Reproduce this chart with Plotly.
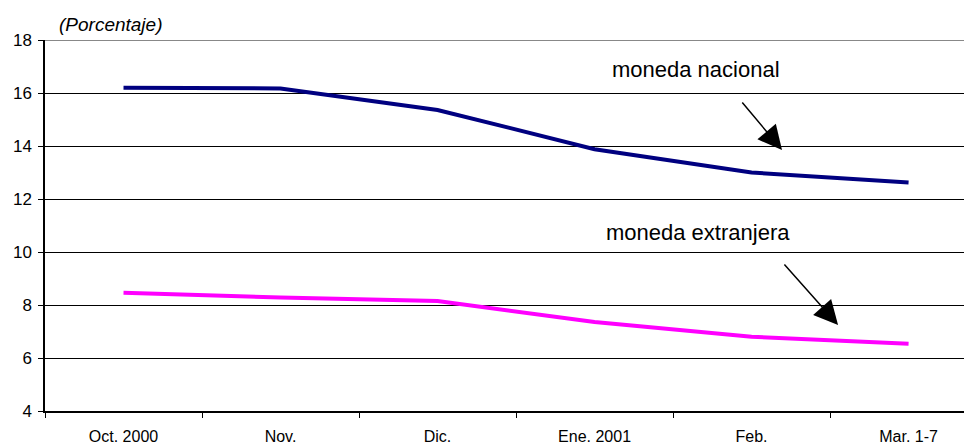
import plotly.graph_objects as go

categories = ["Oct. 2000", "Nov.", "Dic.", "Ene. 2001", "Feb.", "Mar. 1-7"]
moneda_nacional = [16.2, 16.17, 15.36, 13.88, 13.0, 12.62]
moneda_extranjera = [8.46, 8.28, 8.15, 7.36, 6.8, 6.54]
y_ticks = [4, 6, 8, 10, 12, 14, 16, 18]

FONT = "Liberation Sans, Arial, sans-serif"

fig = go.Figure()
fig.add_trace(go.Scatter(x=categories, y=moneda_nacional, mode="lines",
                         line=dict(color="#000080", width=4), name="moneda nacional",
                         showlegend=False))
fig.add_trace(go.Scatter(x=categories, y=moneda_extranjera, mode="lines",
                         line=dict(color="#FF00FF", width=4), name="moneda extranjera",
                         showlegend=False))

# top border line at 18 (grey)
fig.add_shape(type="line", xref="paper", yref="y", x0=0, x1=1, y0=18, y1=18,
              line=dict(color="#888888", width=2), layer="below")

fig.add_annotation(x=3.646, y=16.87, text="moneda nacional", showarrow=False,
                   font=dict(family=FONT, size=22, color="black"))
fig.add_annotation(x=3.66, y=10.75, text="moneda extranjera", showarrow=False,
                   font=dict(family=FONT, size=22, color="black"))
fig.add_annotation(x=4.194, y=13.85, ax=-41, ay=-49, text="", showarrow=True,
                   arrowhead=2, arrowsize=3.2, arrowwidth=1.5, arrowcolor="black")
fig.add_annotation(x=4.551, y=7.245, ax=-55, ay=-62, text="", showarrow=True,
                   arrowhead=2, arrowsize=3.2, arrowwidth=1.5, arrowcolor="black")

fig.add_annotation(xref="paper", yref="paper", x=12/927, y=1.0, yshift=3,
                   xanchor="left", yanchor="bottom", text="<i>(Porcentaje)</i>",
                   showarrow=False, font=dict(family=FONT, size=19, color="black"))

fig.update_layout(
    width=964, height=437,
    margin=dict(l=37, r=0, t=32, b=34, autoexpand=False),
    paper_bgcolor="white", plot_bgcolor="white",
    font=dict(family=FONT, size=17, color="black"),
    xaxis=dict(type="category", range=[-0.5, 5.404], tickson="boundaries",
               ticks="outside", ticklen=5, tickcolor="black", showgrid=False,
               showline=True, linecolor="black", linewidth=1.5, automargin=False,
               tickfont=dict(size=16), ticklabelstandoff=10),
    yaxis=dict(range=[4, 18], tickvals=y_ticks, ticks="outside", ticklen=5,
               tickcolor="black", showgrid=True, gridcolor="black", gridwidth=1,
               showline=True, linecolor="black", linewidth=1.5, zeroline=False,
               automargin=False, tickfont=dict(size=17), ticklabelstandoff=3),
)

fig.write_html("out.html")
